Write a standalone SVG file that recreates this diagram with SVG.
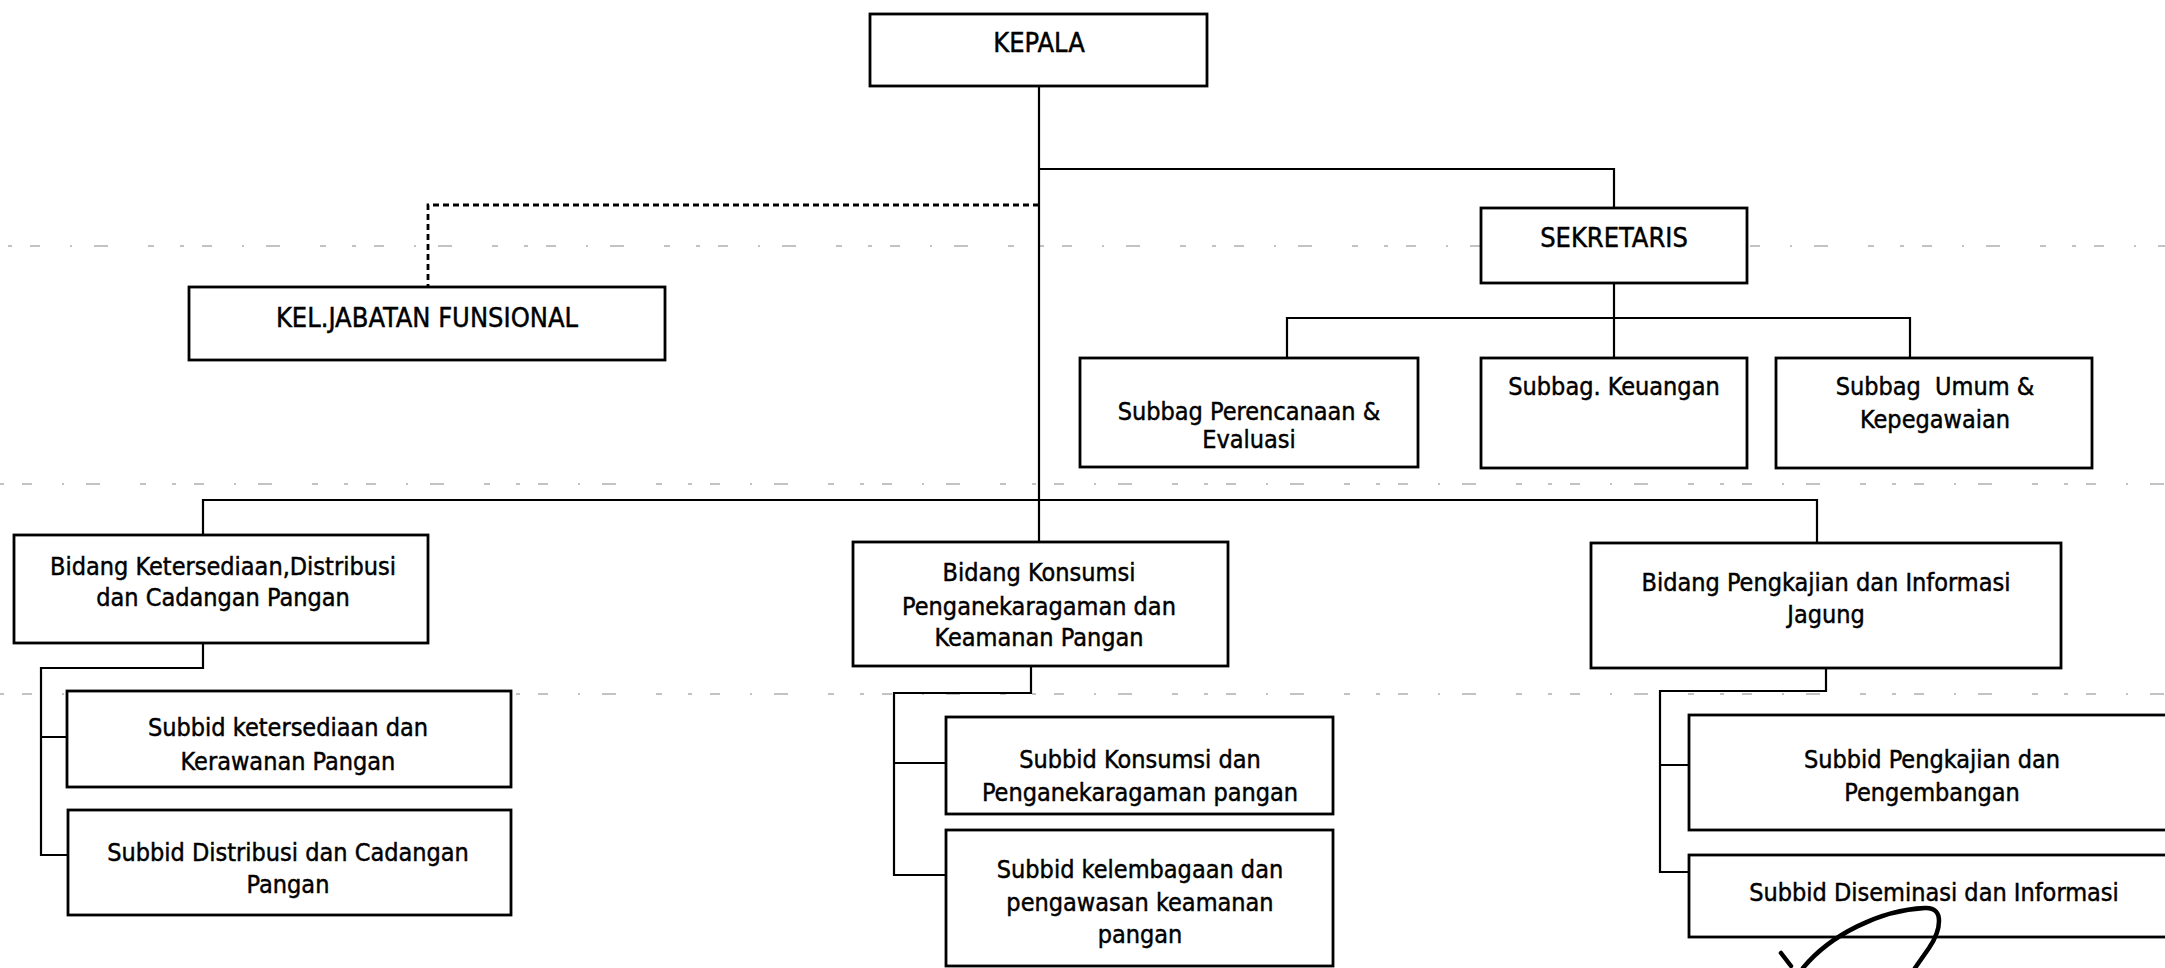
<svg xmlns="http://www.w3.org/2000/svg" width="2165" height="968" viewBox="0 0 2165 968">
<style>
.box{fill:#fff;stroke:#000;stroke-width:2.8}
.t{font-family:"DejaVu Sans Condensed","DejaVu Sans",sans-serif;font-size:25px;fill:#000;stroke:#000;stroke-width:0.45;text-anchor:middle}
.cap{font-size:27px}
.c{fill:none;stroke:#000;stroke-width:2.2}
.d{fill:none;stroke:#000;stroke-width:2.8;stroke-dasharray:6 4}
.bg{fill:none;stroke:#888;stroke-width:1.2;stroke-dasharray:4 18 10 30 2 22 14 40 6 26}
.sig{fill:none;stroke:#000;stroke-width:4.5;stroke-linecap:round}
</style>
<g id="scan-lines">
<path class="bg" d="M8 246 H2165"/>
<path class="bg" d="M0 484 H2165"/>
<path class="bg" d="M0 694 H2165"/>
</g>
<g id="connectors">
<path class="c" d="M1039 86 V542"/>
<path class="c" d="M1039 169 H1614 V208"/>
<path class="d" d="M1039 205 H428 V287"/>
<path class="c" d="M1614 283 V358"/>
<path class="c" d="M1287 358 V318 H1910 V358"/>
<path class="c" d="M203 535 V500 H1817 V543"/>
<path class="c" d="M203 643 V668 H41 V855 H68 M41 737 H67"/>
<path class="c" d="M1031 666 V693 H894 V875 H946 M894 763 H946"/>
<path class="c" d="M1826 668 V691 H1660 V872 H1689 M1660 765 H1689"/>
</g>
<g id="kepala"><rect class="box" x="870" y="14" width="337" height="72"/><text class="t cap" x="1039" y="52">KEPALA</text></g>
<g id="kel-jabatan-funsional"><rect class="box" x="189" y="287" width="476" height="73"/><text class="t cap" x="427" y="327">KEL.JABATAN FUNSIONAL</text></g>
<g id="sekretaris"><rect class="box" x="1481" y="208" width="266" height="75"/><text class="t cap" x="1614" y="247">SEKRETARIS</text></g>
<g id="subbag-perencanaan"><rect class="box" x="1080" y="358" width="338" height="109"/><text class="t" x="1249" y="420">Subbag Perencanaan &amp;</text><text class="t" x="1249" y="448">Evaluasi</text></g>
<g id="subbag-keuangan"><rect class="box" x="1481" y="358" width="266" height="110"/><text class="t" x="1614" y="395">Subbag. Keuangan</text></g>
<g id="subbag-umum"><rect class="box" x="1776" y="358" width="316" height="110"/><text class="t" x="1935" y="395" xml:space="preserve">Subbag  Umum &amp;</text><text class="t" x="1935" y="428">Kepegawaian</text></g>
<g id="bidang-ketersediaan"><rect class="box" x="14" y="535" width="414" height="108"/><text class="t" x="223" y="575">Bidang Ketersediaan,Distribusi</text><text class="t" x="223" y="606">dan Cadangan Pangan</text></g>
<g id="bidang-konsumsi"><rect class="box" x="853" y="542" width="375" height="124"/><text class="t" x="1039" y="581">Bidang Konsumsi</text><text class="t" x="1039" y="615">Penganekaragaman dan</text><text class="t" x="1039" y="646">Keamanan Pangan</text></g>
<g id="bidang-pengkajian"><rect class="box" x="1591" y="543" width="470" height="125"/><text class="t" x="1826" y="591">Bidang Pengkajian dan Informasi</text><text class="t" x="1826" y="623">Jagung</text></g>
<g id="subbid-ketersediaan"><rect class="box" x="67" y="691" width="444" height="96"/><text class="t" x="288" y="736">Subbid ketersediaan dan</text><text class="t" x="288" y="770">Kerawanan Pangan</text></g>
<g id="subbid-distribusi"><rect class="box" x="68" y="810" width="443" height="105"/><text class="t" x="288" y="861">Subbid Distribusi dan Cadangan</text><text class="t" x="288" y="893">Pangan</text></g>
<g id="subbid-konsumsi"><rect class="box" x="946" y="717" width="387" height="97"/><text class="t" x="1140" y="768">Subbid Konsumsi dan</text><text class="t" x="1140" y="801">Penganekaragaman pangan</text></g>
<g id="subbid-kelembagaan"><rect class="box" x="946" y="830" width="387" height="136"/><text class="t" x="1140" y="878">Subbid kelembagaan dan</text><text class="t" x="1140" y="911">pengawasan keamanan</text><text class="t" x="1140" y="943">pangan</text></g>
<g id="subbid-pengkajian"><rect class="box" x="1689" y="715" width="490" height="115"/><text class="t" x="1932" y="768">Subbid Pengkajian dan</text><text class="t" x="1932" y="801">Pengembangan</text></g>
<g id="subbid-diseminasi"><rect class="box" x="1689" y="855" width="490" height="82"/><text class="t" x="1934" y="901">Subbid Diseminasi dan Informasi</text></g>
<g id="signature">
<path class="sig" stroke-width="6" d="M1781 953 L1791 966"/>
<path class="sig" d="M1803 968 C1830 935 1880 910 1925 908 C1945 907 1941 930 1929 948 L1915 968"/>
</g>
</svg>
